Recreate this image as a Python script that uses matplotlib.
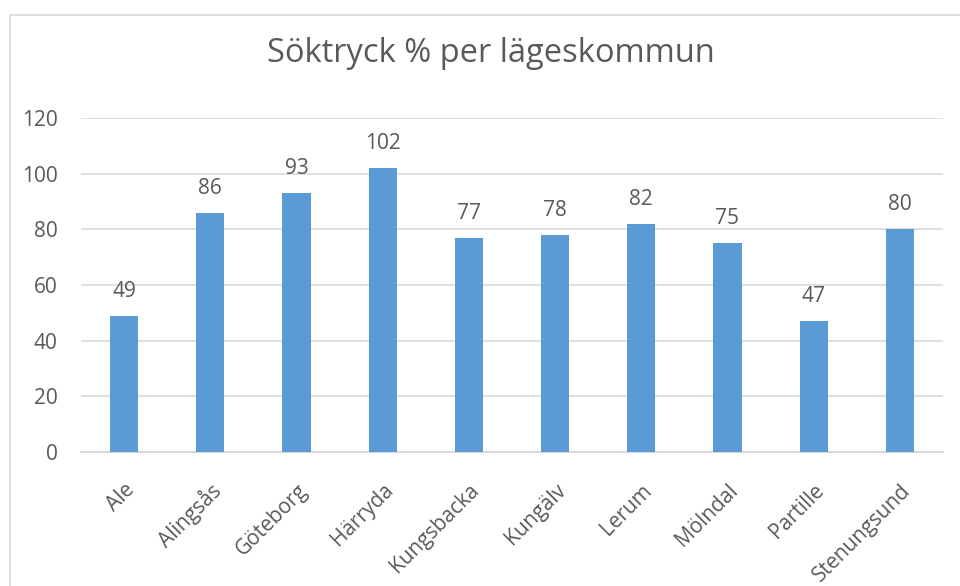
import matplotlib
matplotlib.use("Agg")
import matplotlib.pyplot as plt
from matplotlib.lines import Line2D

categories = ["Ale", "Alingsås", "Göteborg", "Härryda", "Kungsbacka", "Kungälv",
              "Lerum", "Mölndal", "Partille", "Stenungsund"]
values = [49, 86, 93, 102, 77, 78, 82, 75, 47, 80]
yticks = [0, 20, 40, 60, 80, 100, 120]
title = "Söktryck % per lägeskommun"

plt.rcParams['font.family'] = ['Open Sans', 'DejaVu Sans']
text_col = "#595959"
grid_col = "#d9d9d9"
bar_col = "#5B9BD5"

W, H = 960, 586
fig = plt.figure(figsize=(W/100, H/100), dpi=100)
ax = fig.add_axes([81/W, 1-452/H, (943-81)/W, (452-118)/H])

x = list(range(len(categories)))
ax.bar(x, values, width=0.325, color=bar_col, zorder=3)
for xi, v in zip(x, values):
    ax.annotate(str(v), (xi, v), xytext=(0, 10), textcoords="offset points",
                ha="center", va="bottom", fontsize=15, color=text_col)

ax.set_xlim(-0.5, len(categories)-0.5)
ax.set_ylim(0, 120)
ax.set_yticks(yticks)
ax.set_yticklabels([str(t) for t in yticks], fontsize=15, color=text_col)
ax.set_xticks(x)
ax.set_xticklabels(categories, rotation=45, ha="right", rotation_mode="anchor",
                   fontsize=15, color=text_col)
ax.tick_params(axis="both", length=0)
ax.tick_params(axis="y", pad=17)
ax.tick_params(axis="x", pad=20)
ax.grid(axis="y", color=grid_col, linewidth=1.2, zorder=0)
for s in ["top", "right", "left"]:
    ax.spines[s].set_visible(False)
ax.spines["bottom"].set_color(grid_col)
ax.spines["bottom"].set_linewidth(1.5)

fig.text(0.5*(268+713)/W, 1-54/H, title, ha="center", va="center",
         fontsize=23.5, color=text_col)

# chart frame (left and top edges visible)
fig.add_artist(Line2D([9.5/W, 9.5/W], [0, 1-15/H], color=grid_col, linewidth=1.2))
fig.add_artist(Line2D([9.5/W, 1], [1-15/H, 1-15/H], color=grid_col, linewidth=1.2))

fig.savefig("out.png", dpi=100)
